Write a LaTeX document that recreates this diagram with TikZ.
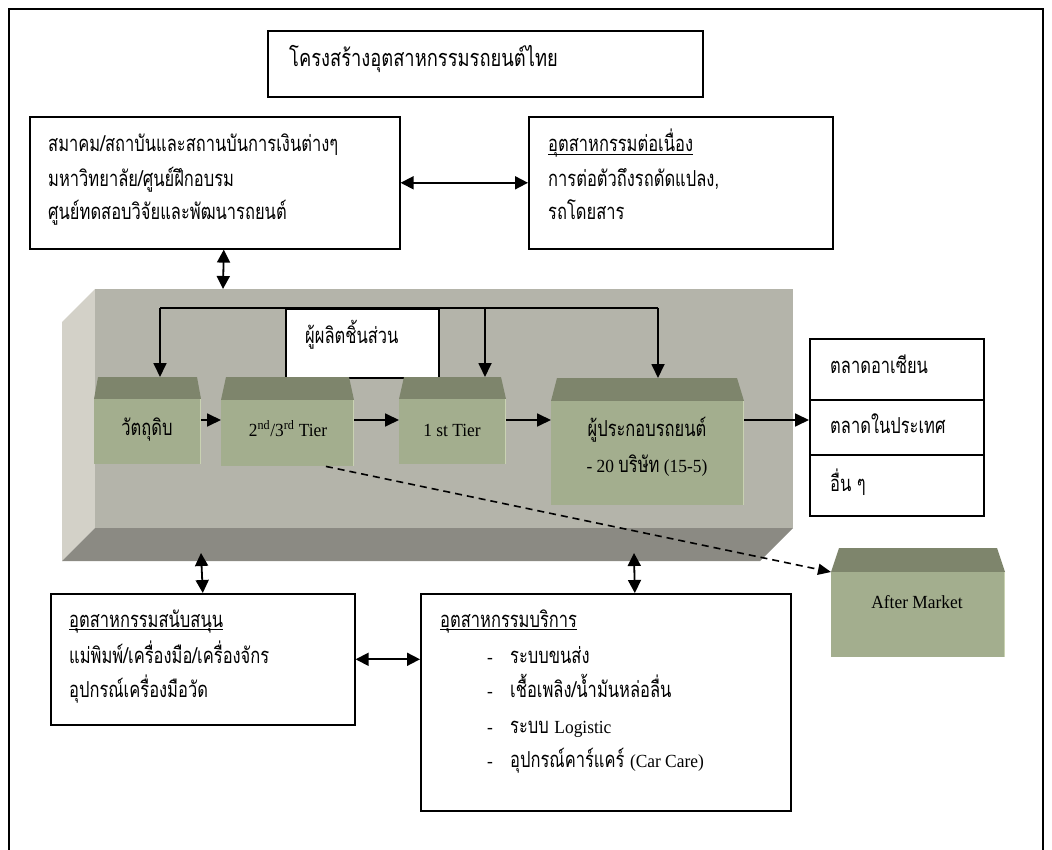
\documentclass[tikz,border=0pt]{standalone}
\usepackage{fontspec}
\setmainfont{Liberation Serif}
\newfontfamily\thai[Script=Thai, FakeStretch=0.75]{Loma}
\newfontfamily\latn[FakeStretch=0.94]{Liberation Serif}
\usetikzlibrary{arrows.meta}
\definecolor{frontc}{HTML}{B4B4AA}
\definecolor{sidec}{HTML}{D3D1C8}
\definecolor{botc}{HTML}{8B8A83}
\definecolor{gbodyc}{HTML}{A3AE8E}
\definecolor{gtopc}{HTML}{7E856C}
\definecolor{ghic}{HTML}{C9D2B2}
\newcommand\thaif{\thai\fontsize{22}{26}\selectfont}
\newcommand\thaiT{\thai\fontsize{23.5}{27}\selectfont}
\newcommand\latf{\latn\fontsize{18.5}{22}\selectfont}
\begin{document}
\begin{tikzpicture}[x=1pt,y=-1pt,
  box/.style={draw, line width=1.6pt, fill=white, inner sep=0pt},
  th/.style={inner sep=0pt, anchor=base west, font=\thaif},
  thc/.style={inner sep=0pt, anchor=base, font=\thaif},
  lat/.style={inner sep=0pt, anchor=base, font=\latf},
  gbody/.style={fill=gbodyc, inner sep=0pt},
  arr/.style={line width=1.8pt, -{Triangle[length=14pt,width=13pt]}},
  darr/.style={line width=1.8pt, {Triangle[length=13pt,width=13pt]}-{Triangle[length=13pt,width=13pt]}},
  dsh/.style={line width=1.6pt, dash pattern=on 7pt off 5pt, -{Triangle[length=13pt,width=11pt]}}
]
\useasboundingbox (0,0) rectangle (1052,850);
\fill[white] (0,0) rectangle (1052,850);
\draw[line width=1.8pt] (9,9) rectangle (1043,880);

% title
\node[box, minimum width=435pt, minimum height=66pt, anchor=north west] (title) at (267,30) {};
\node[th, font=\thaiT] (titletx) at (289,67) {\addfontfeature{FakeStretch=0.78}โครงสร้างอุตสาหกรรมรถยนต์ไทย};

% top left
\node[box, minimum width=370pt, minimum height=132pt, anchor=north west] (lt) at (29,116) {};
\node[th] (lt1) at (48,152) {สมาคม/สถาบันและสถานบันการเงินต่างๆ};
\node[th] (lt2) at (48,187) {มหาวิทยาลัย/ศูนย์ฝึกอบรม};
\node[th] (lt3) at (48,220) {ศูนย์ทดสอบวิจัยและพัฒนารถยนต์};

% top right
\node[box, minimum width=304pt, minimum height=132pt, anchor=north west] (rt) at (528,116) {};
\node[th] (rt1) at (548,152) {อุตสาหกรรมต่อเนื่อง};
\draw[line width=0.8pt] ([yshift=-2pt]rt1.base west) -- ([yshift=-2pt]rt1.base east);
\node[th] (rt2) at (548,187) {การต่อตัวถึงรถดัดแปลง,};
\node[th] (rt3) at (548,220) {รถโดยสาร};

\draw[darr] (lt.east) -- (rt.west);

% big bevel box
\fill[sidec] (62,322) -- (95,289) -- (95,528) -- (62,561) -- cycle;
\fill[botc] (95,528) -- (793,528) -- (760,561) -- (62,561) -- cycle;
\fill[frontc] (95,289) rectangle (793,528);

\coordinate (bbT) at (223,289);
\draw[darr] ([xshift=9pt]lt.south) -- (bbT);

% parts maker
\node[box, minimum width=153pt, minimum height=69pt, anchor=north west] (pm) at (285,308) {};
\node[th] (pmtx) at (305,343) {ผู้ผลิตชิ้นส่วน};

% green boxes
\fill[gtopc] (94,399) -- (98,377) -- (197,377) -- (201,399) -- cycle;
\node[gbody, minimum width=107pt, minimum height=65pt, anchor=north west] (raw) at (94,399) {};
\fill[gtopc] (221,400) -- (226,377) -- (349,377) -- (354,400) -- cycle;
\node[gbody, minimum width=133pt, minimum height=66pt, anchor=north west] (t23) at (221,400) {};
\fill[gtopc] (399,399) -- (404,377) -- (501,377) -- (506,399) -- cycle;
\node[gbody, minimum width=107pt, minimum height=65pt, anchor=north west] (t1) at (399,399) {};
\fill[gtopc] (551,401) -- (557,378) -- (737,378) -- (744,401) -- cycle;
\node[gbody, minimum width=193pt, minimum height=104pt, anchor=north west] (asm) at (551,401) {};
\fill[gtopc] (831,572) -- (839,548) -- (997,548) -- (1005,572) -- cycle;
\node[gbody, minimum width=174pt, minimum height=85pt, anchor=north west] (after) at (831,572) {};
\foreach \n in {raw,t23,t1,asm,after}{
  \draw[ghic, line width=1.2pt] ([xshift=-0.6pt]\n.north east) -- ([xshift=-0.6pt]\n.south east);
}

\node[thc] (rawtx) at (147,435) {วัตถุดิบ};
\node[lat] (t23tx) at (288,436) {2\textsuperscript{nd}/3\textsuperscript{rd} Tier};
\node[lat] (t1tx) at (452,436) {1 st Tier};
\node[thc] (asmtx1) at (647,436) {ผู้ประกอบรถยนต์};
\node[lat] (asmtx2) at (647,472) {- 20 {\thai\fontsize{22}{26}\selectfont บริษัท} (15-5)};
\node[lat] (aftertx) at (917,608) {After Market};

% feedback lines
\coordinate (fbL) at (160,308);
\coordinate (fbM) at (485,308);
\coordinate (fbR) at (658,308);
\coordinate (rawT) at (160,377);
\coordinate (t1T) at (485,377);
\coordinate (asmT) at (658,378);
\draw[line width=1.8pt] (fbL) -- (fbR);
\draw[arr] (fbL) -- (rawT);
\draw[arr] (fbM) -- (t1T);
\draw[arr] (fbR) -- (asmT);

% markets
\node[box, minimum width=174pt, minimum height=61pt, anchor=north west] (mk1) at (809,338) {};
\node[box, minimum width=174pt, minimum height=55pt, anchor=north west] (mk2) at (809,399) {};
\node[box, minimum width=174pt, minimum height=61pt, anchor=north west] (mk3) at (809,454) {};
\node[th] (mk1tx) at (830,373) {ตลาดอาเซียน};
\node[th] (mk2tx) at (830,433) {ตลาดในประเทศ};
\node[th] (mk3tx) at (830,491) {อื่น ๆ};

% chain arrows
\coordinate (ay) at (0,420);
\draw[arr] (raw.east |- ay) -- (t23.west |- ay);
\draw[arr] (t23.east |- ay) -- (t1.west |- ay);
\draw[arr] (t1.east |- ay) -- (asm.west |- ay);
\draw[arr] (asm.east |- ay) -- (mk2.west |- ay);

% dashed
\draw[dsh] (t23.-41) -- (after.north west);

% bottom boxes
\node[box, minimum width=304pt, minimum height=131pt, anchor=north west] (bl) at (50,593) {};
\node[th] (bl1) at (69,627) {อุตสาหกรรมสนับสนุน};
\draw[line width=0.8pt] ([yshift=-2pt]bl1.base west) -- ([yshift=-2pt]bl1.base east);
\node[th] (bl2) at (69,663) {แม่พิมพ์/เครื่องมือ/เครื่องจักร};
\node[th] (bl3) at (69,697) {อุปกรณ์เครื่องมือวัด};

\node[box, minimum width=370pt, minimum height=217pt, anchor=north west] (br) at (420,593) {};
\node[th] (br0) at (440,627) {อุตสาหกรรมบริการ};
\draw[line width=0.8pt] ([yshift=-2pt]br0.base west) -- ([yshift=-2pt]br0.base east);
\node[th, font=\latf] (bd1) at (487,663) {-};
\node[th] (br1) at (510,663) {ระบบขนส่ง};
\node[th, font=\latf] (bd2) at (487,697) {-};
\node[th] (br2) at (510,697) {เชื้อเพลิง/น้ำมันหล่อลื่น};
\node[th, font=\latf] (bd3) at (487,733) {-};
\node[th] (br3) at (510,733) {ระบบ {\latf Logistic}};
\node[th, font=\latf] (bd4) at (487,767) {-};
\node[th] (br4) at (510,767) {อุปกรณ์คาร์แคร์ {\latf (Car Care)}};

\coordinate (bbBL) at (201,553);
\coordinate (bbBR) at (634,553);
\draw[darr] (bl.north) -- (bbBL);
\draw[darr] ([xshift=29pt]br.north) -- (bbBR);
\draw[darr] (bl.east) -- (br.west |- bl.east);
\end{tikzpicture}
\end{document}
